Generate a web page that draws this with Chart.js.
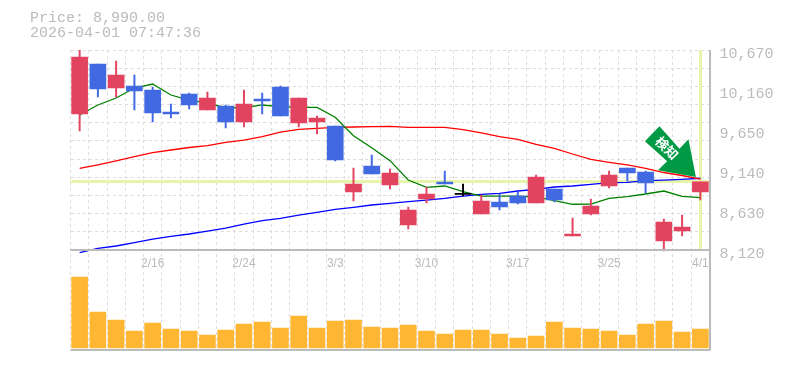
<!DOCTYPE html>
<html lang="ja">
<head>
  <meta charset="UTF-8">
  <title>Price chart</title>
  <script src="https://cdn.jsdelivr.net/npm/chart.js"></script>
  <style>
    body { margin: 0; background: #fff; }
    canvas { display: block; }
  </style>
</head>
<body>
<canvas id="chart" width="785" height="370"></canvas>
<script>
  const dates = ['2/9','2/10','2/12','2/13','2/16','2/17','2/18','2/19','2/20','2/24','2/25','2/26','2/27','3/2','3/3','3/4','3/5','3/6','3/9','3/10','3/11','3/12','3/13','3/16','3/17','3/18','3/19','3/23','3/24','3/25','3/26','3/27','3/30','3/31','4/1'];
  const opens = [9854,10491,10185,10211,10160,9879,10109,9905,9956,9752,10045,10198,9739,9752,9701,8859,9191,8949,8439,8770,8987,8830,8579,8732,8808,8719,8898,8298,8579,8936,9165,9114,8235,8362,8859];
  const highs = [10670,10491,10530,10351,10198,9981,10122,10134,9969,10160,10122,10211,10058,9828,9701,9165,9331,9153,8668,8923,9127,8961,8821,8834,8859,9076,8898,8528,8770,9127,9165,9127,8515,8566,8990];
  const lows = [9637,10071,10071,9905,9752,9803,9918,9905,9675,9688,9854,9828,9688,9599,9255,8745,9089,8898,8388,8719,8961,8808,8579,8630,8706,8719,8732,8298,8566,8910,9000,8847,8107,8298,8757];
  const closes = [10581,10173,10351,10147,9867,9854,9969,10058,9752,9981,10020,9828,10058,9803,9267,8961,9089,9102,8630,8834,8961,8830,8745,8668,8719,9051,8757,8324,8681,9076,9102,8974,8477,8413,8990];
  const ma5 = [9841,9969,10058,10185,10236,10096,10032,9994,9934,9934,9969,9947,9939,9939,9812,9577,9424,9259,9012,8919,8936,8863,8808,8808,8808,8796,8749,8703,8706,8779,8800,8834,8872,8805,8787];
  const ma25 = [9162,9204,9255,9310,9361,9395,9427,9452,9491,9522,9565,9624,9659,9672,9684,9688,9692,9697,9684,9684,9684,9654,9612,9565,9531,9468,9417,9344,9276,9238,9204,9162,9108,9070,9025];
  const ma75 = [8086,8142,8171,8213,8260,8295,8324,8362,8400,8451,8494,8524,8566,8601,8639,8664,8694,8715,8736,8757,8779,8808,8830,8843,8872,8894,8923,8936,8958,8978,8983,9004,9012,9021,9035];
  const volumes = [7100,3600,2800,1700,2500,1900,1700,1300,1800,2400,2600,2000,3200,2000,2700,2800,2100,2000,2300,1700,1400,1800,1800,1400,1000,1200,2600,2000,1900,1700,1300,2400,2700,1600,1900];
  const dateTicks = ['2/16','2/24','3/3','3/10','3/17','3/25','4/1'];
  const priceTicks = [10670,10160,9650,9140,8630,8120];
  const gridPrices = [10670,10438,10206,9975,9743,9511,9279,9047,8815,8584,8352,8120];
  const lastPrice = 8990;
  const arrowPrice = 9050;
  const headerLines = ['Price: 8,990.00', '2026-04-01 07:47:36'];

  const RED = '#e2435f', BLUE = '#4169e1', GRAY = '#bbbbbb', HILITE = '#e6f5a8';

  const candleColors = opens.map((o, i) => closes[i] > o ? RED : closes[i] < o ? BLUE : '#000000');

  // lines under the candles: last price and current day
  const hilitePlugin = {
    id: 'hilite',
    beforeDatasetsDraw(chart) {
      const { ctx, chartArea, scales } = chart;
      const y = scales.y.getPixelForValue(lastPrice);
      const x = scales.x.getPixelForValue(dates.length - 1);
      ctx.save();
      ctx.fillStyle = HILITE;
      ctx.fillRect(chartArea.left, Math.round(y) - 2, chartArea.width, 3);
      ctx.fillRect(Math.round(x) - 1, chartArea.top, 3, scales.y.getPixelForValue(8120) - chartArea.top - 1);
      ctx.restore();
    }
  };

  // solid frame, arrow and header
  const overlayPlugin = {
    id: 'overlay',
    afterDatasetsDraw(chart) {
      const { ctx, chartArea, scales } = chart;
      const split = Math.round(scales.y.getPixelForValue(8120));
      ctx.save();
      ctx.strokeStyle = GRAY;
      ctx.lineWidth = 2;
      ctx.beginPath();
      ctx.moveTo(chartArea.left, split);
      ctx.lineTo(chartArea.right + 1, split);
      ctx.moveTo(chartArea.left, chartArea.bottom);
      ctx.lineTo(chartArea.right + 1, chartArea.bottom);
      ctx.moveTo(chartArea.right + 0.5, chartArea.top);
      ctx.lineTo(chartArea.right + 0.5, chartArea.bottom);
      ctx.stroke();

      const tx = scales.x.getPixelForValue(dates.length - 1) - 4.5;
      const ty = scales.y.getPixelForValue(arrowPrice);
      ctx.translate(tx, ty);
      ctx.fillStyle = '#009944';
      ctx.beginPath();
      ctx.moveTo(-36.4, -50.7);
      ctx.lineTo(-16.4, -28.4);
      ctx.lineTo(-7.4, -37.7);
      ctx.lineTo(0, 0);
      ctx.lineTo(-38, -6.7);
      ctx.lineTo(-28.7, -15.7);
      ctx.lineTo(-51, -35.7);
      ctx.closePath();
      ctx.fill();
      ctx.translate(-29, -29);
      ctx.rotate(Math.PI / 4);
      ctx.fillStyle = '#ffffff';
      ctx.font = 'bold 13px "Noto Sans CJK JP"';
      ctx.textAlign = 'center';
      ctx.textBaseline = 'middle';
      ctx.fillText('検知', 0, 0);
      ctx.restore();

      ctx.save();
      ctx.fillStyle = GRAY;
      ctx.font = '15px "Liberation Mono"';
      ctx.textBaseline = 'alphabetic';
      headerLines.forEach((line, i) => ctx.fillText(line, 30, 22 + i * 15));
      ctx.restore();
    }
  };

  new Chart(document.getElementById('chart'), {
    type: 'bar',
    data: {
      labels: dates,
      datasets: [
        { type: 'line', data: ma5, borderColor: '#008000', borderWidth: 1.3, pointRadius: 0, tension: 0, order: 3 },
        { type: 'line', data: ma25, borderColor: '#ff0000', borderWidth: 1.3, pointRadius: 0, tension: 0, order: 3 },
        { type: 'line', data: ma75, borderColor: '#0000ff', borderWidth: 1.3, pointRadius: 0, tension: 0, order: 3 },
        { data: lows.map((l, i) => [l, highs[i]]), backgroundColor: candleColors, barThickness: 1.3, grouped: false, order: 2 },
        { data: opens.map((o, i) => [o, closes[i]]), backgroundColor: candleColors, barThickness: 16, minBarLength: 1, grouped: false, order: 1 },
        { data: volumes, yAxisID: 'yVol', backgroundColor: '#ffb733', barThickness: 16, grouped: false, order: 4 }
      ]
    },
    options: {
      responsive: false,
      animation: false,
      layout: { padding: { top: 50, bottom: 20 } },
      plugins: { legend: { display: false }, tooltip: { enabled: false } },
      scales: {
        x: {
          position: { y: 8120 },
          grid: { color: '#dddddd', drawTicks: false },
          border: { display: false, dash: [3, 3] },
          ticks: {
            autoSkip: false,
            maxRotation: 0,
            padding: 6,
            color: GRAY,
            font: { family: '"Liberation Sans"', size: 12 },
            callback(value) {
              const label = this.getLabelForValue(value);
              return dateTicks.includes(label) ? label : '';
            }
          }
        },
        // price scale covers the volume panel too, only the upper part is used
        y: {
          position: 'left',
          min: 6845,
          max: 10670,
          afterBuildTicks(axis) { axis.ticks = gridPrices.map(v => ({ value: v })); },
          afterFit(axis) { axis.width = 70.5; },
          grid: { color: '#dddddd', drawTicks: false },
          border: { display: false, dash: [3, 3] },
          ticks: { display: false }
        },
        yLabels: {
          position: 'right',
          min: 6845,
          max: 10670,
          afterBuildTicks(axis) { axis.ticks = priceTicks.map(v => ({ value: v })); },
          afterFit(axis) { axis.width = 75.5; },
          grid: { display: false, drawTicks: false },
          border: { display: false },
          ticks: {
            padding: 10,
            labelOffset: 4,
            color: GRAY,
            font: { family: '"Liberation Mono"', size: 15 },
            callback(value) { return value.toLocaleString('en-US'); }
          }
        },
        yVol: {
          display: false,
          min: -200,
          max: 29800
        }
      }
    },
    plugins: [hilitePlugin, overlayPlugin]
  });
</script>
</body>
</html>
